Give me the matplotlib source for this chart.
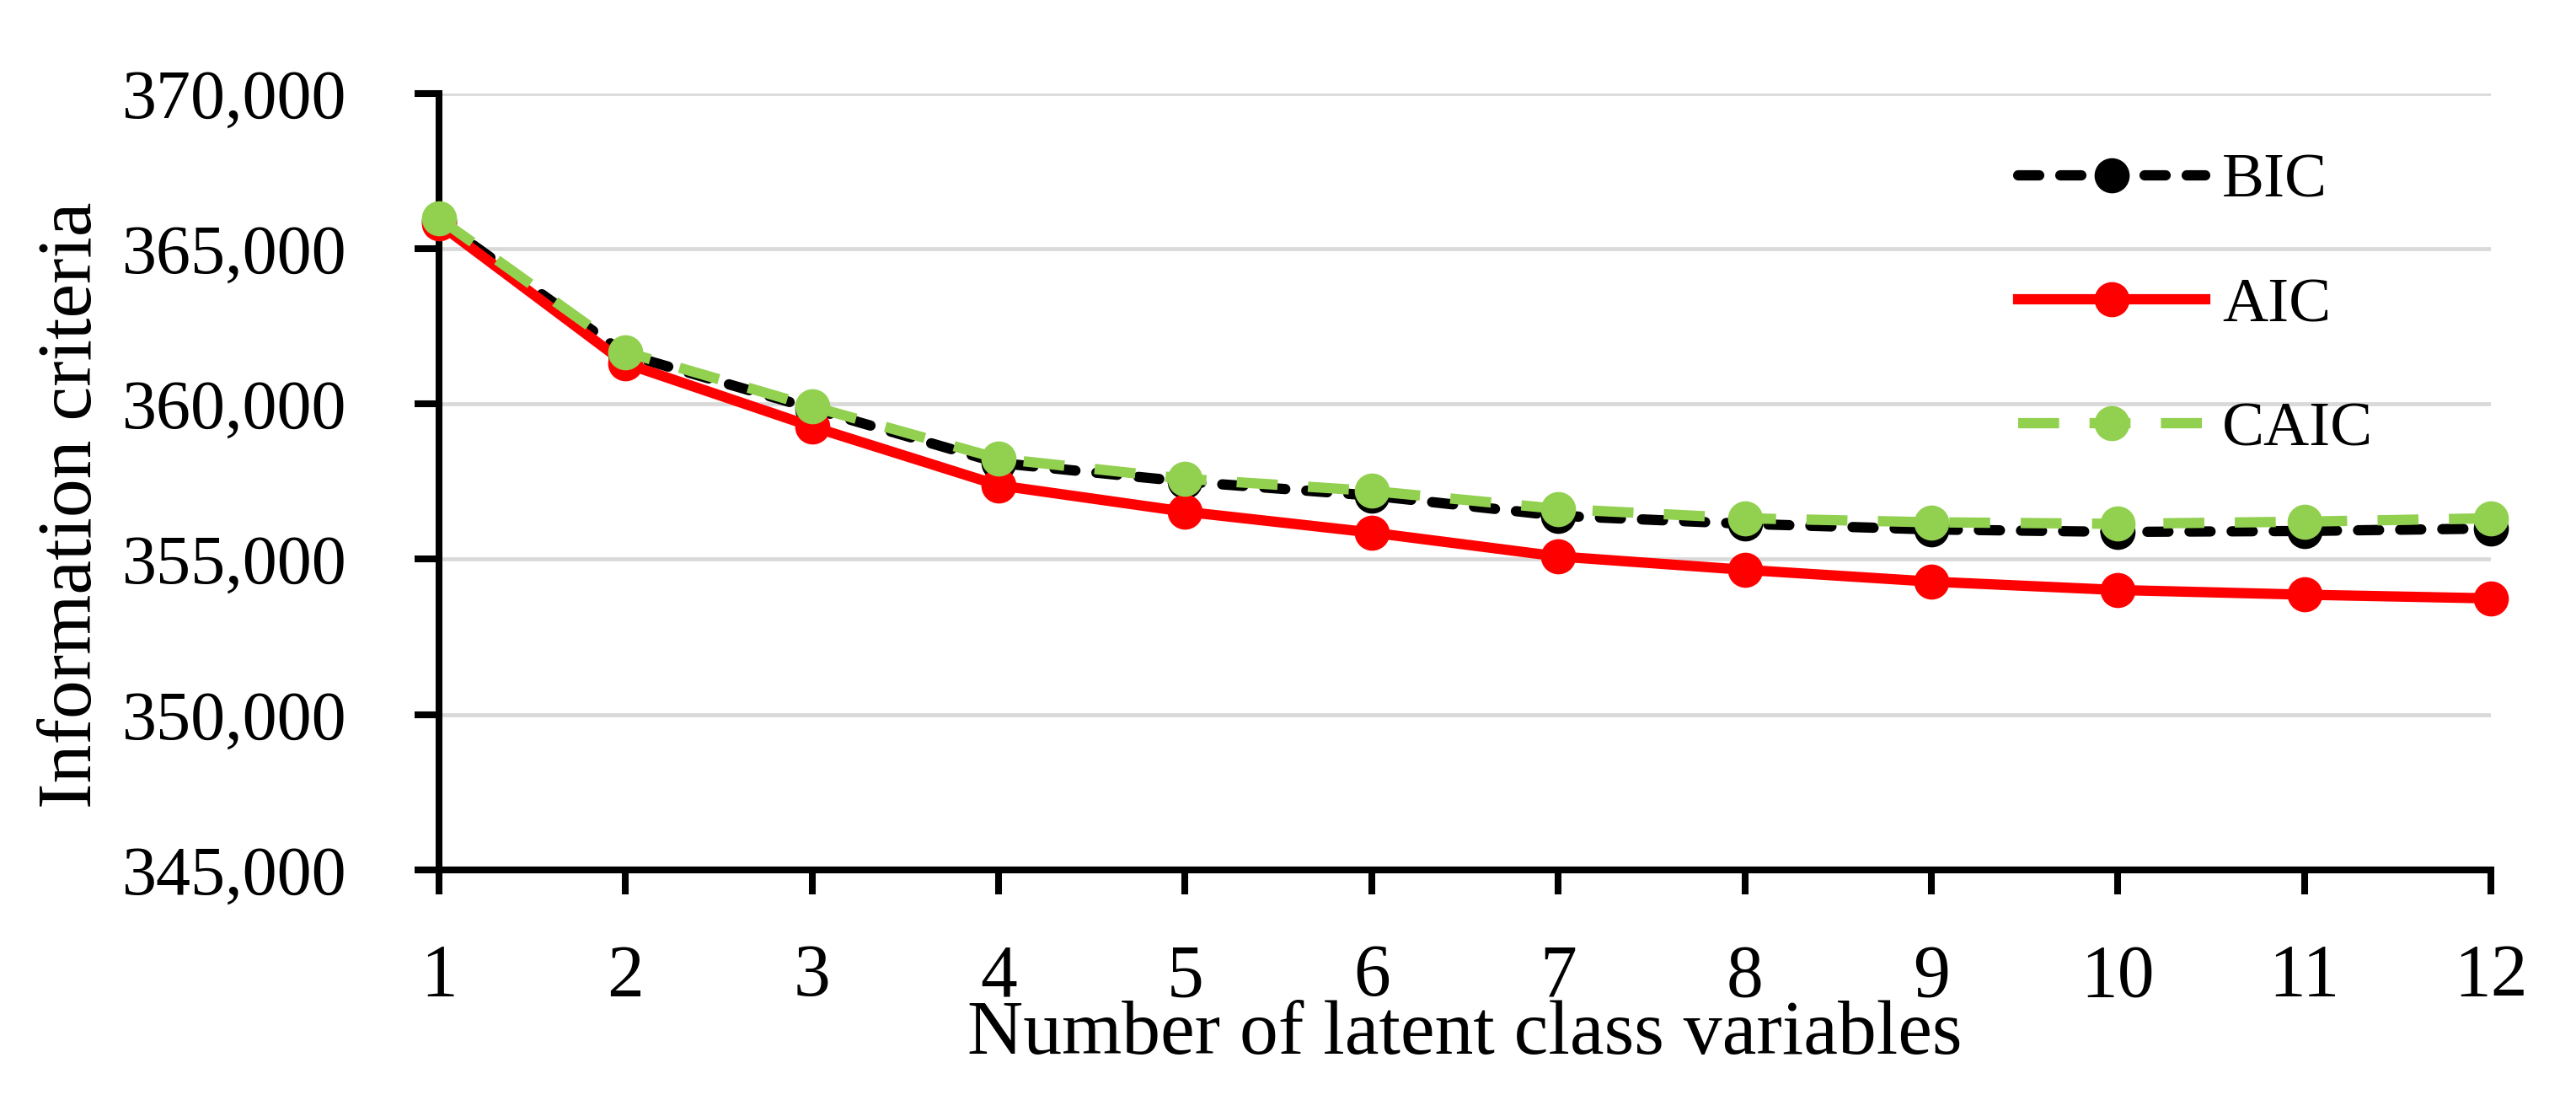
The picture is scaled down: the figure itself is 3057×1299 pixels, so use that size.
import matplotlib
matplotlib.use("Agg")
import matplotlib.pyplot as plt

# data
n_classes = [1, 2, 3, 4, 5, 6, 7, 8, 9, 10, 11, 12]
bic = [365900, 361600, 359850, 358100, 357500, 357050, 356400, 356140, 355960, 355880, 355910, 355990]
aic = [365800, 361300, 359270, 357380, 356530, 355860, 355090, 354660, 354280, 354010, 353860, 353740]
caic = [365970, 361670, 359920, 358240, 357590, 357200, 356620, 356320, 356190, 356140, 356210, 356320]
y_ticks = [345000, 350000, 355000, 360000, 365000, 370000]

plt.rcParams['font.family'] = ['Liberation Serif', 'DejaVu Serif']
plt.rcParams['lines.scale_dashes'] = False

fig = plt.figure(figsize=(30.57, 12.99), dpi=100)
ax = fig.add_axes([521/3057, 1 - 1032/1299, (2956-521)/3057, (1032-110.6)/1299])

lw = 8.8
ms = 29
ax.plot(n_classes, bic, color='black', lw=lw, dashes=(18, 18), dash_capstyle='round',
        marker='o', ms=ms, mec='black', mfc='black', label='BIC', clip_on=False, zorder=3)
ax.plot(n_classes, aic, color='#FF0000', lw=lw, marker='o', ms=ms,
        mec='#FF0000', mfc='#FF0000', label='AIC', clip_on=False, zorder=4)
ax.plot(n_classes, caic, color='#92D050', lw=lw, dashes=(35, 26), dash_capstyle='butt',
        marker='o', ms=ms, mec='#92D050', mfc='#92D050', label='CAIC', clip_on=False, zorder=5)

ax.set_xlim(1, 12)
ax.set_ylim(345000, 370000)
ax.set_xticks(n_classes)
ax.set_xticklabels([str(v) for v in n_classes], fontsize=63)
ax.set_yticks(y_ticks)
ax.set_yticklabels([f"{v:,}" for v in y_ticks], fontsize=59)

ax.grid(axis='y', color='#D9D9D9', lw=3.4, zorder=0)
ax.set_axisbelow(True)
for s in ['top', 'right']:
    ax.spines[s].set_visible(False)
for s in ['left', 'bottom']:
    ax.spines[s].set_linewidth(5.8)
ax.tick_params(axis='both', direction='out', length=21, width=5.8)
ax.tick_params(axis='x', pad=42)
ax.tick_params(axis='y', pad=58)

ax.set_xlabel('Number of latent class variables', fontsize=66)
ax.xaxis.set_label_coords(0.5, -0.168)
ax.set_ylabel('Information criteria', fontsize=66)
ax.yaxis.set_label_coords(-0.162, 0.47)

ax.legend(loc='center left', bbox_to_anchor=(2395/3057, 1 - 363/1299),
          bbox_transform=fig.transFigure, frameon=False, fontsize=54,
          handlelength=2.96, handletextpad=0.27, labelspacing=1.05,
          borderpad=0, borderaxespad=0, numpoints=1)

fig.savefig('out.png', dpi=100, facecolor='white')
